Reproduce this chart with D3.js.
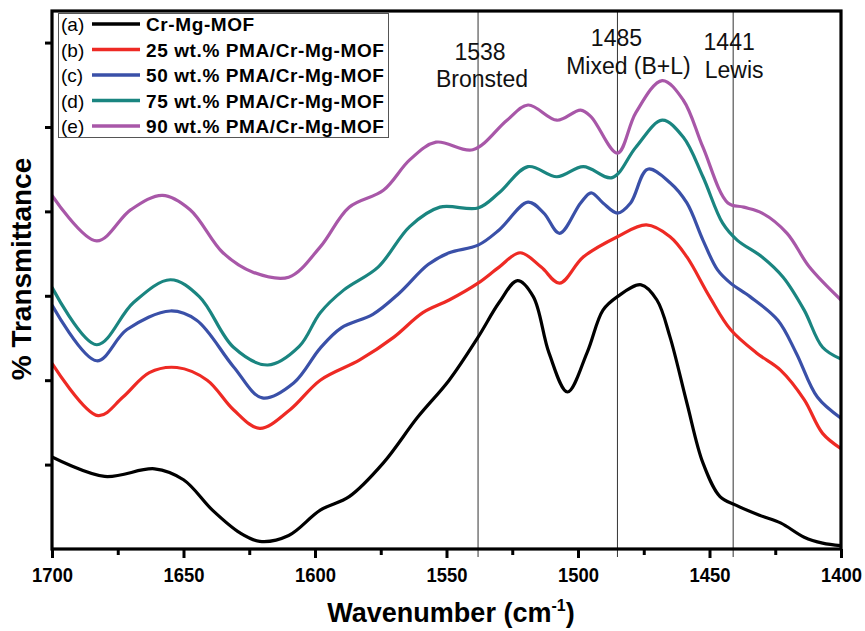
<!DOCTYPE html>
<html>
<head>
<meta charset="utf-8">
<script src="https://cdn.jsdelivr.net/npm/d3@7"></script>
<style>
  html, body { margin: 0; padding: 0; background: #fff; }
  svg { display: block; font-family: "Liberation Sans", Arial, sans-serif; }
</style>
</head>
<body>
<svg id="chart" width="865" height="631"></svg>
<script>
// FTIR spectra (pyridine region), transmittance in arbitrary offset units
const seriesTags = ["(a)", "(b)", "(c)", "(d)", "(e)"];
const seriesNames = [
  "Cr-Mg-MOF",
  "25 wt.% PMA/Cr-Mg-MOF",
  "50 wt.% PMA/Cr-Mg-MOF",
  "75 wt.% PMA/Cr-Mg-MOF",
  "90 wt.% PMA/Cr-Mg-MOF"
];
const seriesColors = ["#000000", "#ee2a24", "#3a50a8", "#1a8580", "#a857a8"];

const mofWn = [1700, 1680, 1661, 1650, 1639, 1628.5, 1621, 1610, 1598, 1587, 1574, 1561, 1549, 1538, 1530, 1523, 1517, 1511, 1504, 1496.5, 1490.5, 1485, 1476, 1470, 1465, 1458.6, 1452.5, 1446, 1440, 1431, 1423, 1414, 1407, 1400];
const mofT  = [1.09, 0.86, 0.95, 0.82, 0.46, 0.19, 0.09, 0.16, 0.46, 0.62, 1.02, 1.56, 2.00, 2.51, 2.92, 3.18, 2.99, 2.32, 1.86, 2.33, 2.83, 2.99, 3.13, 2.95, 2.51, 1.73, 1.02, 0.62, 0.52, 0.40, 0.31, 0.14, 0.07, 0.04];

const pma25Wn = [1700, 1682.5, 1673, 1663, 1652.5, 1641, 1631, 1621, 1609.5, 1598, 1583, 1570, 1559, 1549, 1538, 1530, 1522, 1514, 1507, 1498, 1485, 1474, 1465, 1458.6, 1450, 1442, 1432, 1423, 1414, 1407, 1400];
const pma25T  = [2.20, 1.58, 1.80, 2.09, 2.15, 2.00, 1.65, 1.43, 1.65, 2.00, 2.24, 2.51, 2.80, 2.95, 3.15, 3.34, 3.51, 3.34, 3.15, 3.46, 3.70, 3.84, 3.70, 3.46, 2.99, 2.60, 2.32, 2.12, 1.77, 1.37, 1.19];

const pma50Wn = [1700, 1683, 1671.5, 1655, 1645, 1631, 1620, 1608, 1598, 1590, 1578, 1568, 1557, 1549, 1538, 1530, 1519, 1513, 1507, 1499, 1495, 1490.5, 1485, 1480, 1473.5, 1465, 1458.6, 1452.5, 1447, 1442, 1434.6, 1424, 1417, 1409, 1400];
const pma50T  = [2.89, 2.23, 2.60, 2.82, 2.71, 2.16, 1.79, 1.97, 2.38, 2.62, 2.78, 3.03, 3.37, 3.51, 3.60, 3.78, 4.11, 3.98, 3.74, 4.10, 4.22, 4.10, 3.98, 4.10, 4.50, 4.34, 4.10, 3.66, 3.31, 3.15, 2.99, 2.71, 2.32, 1.80, 1.55];

const pma75Wn = [1700, 1683, 1669, 1655, 1644, 1631, 1618, 1606, 1598, 1589, 1576, 1564, 1552.5, 1538, 1530, 1519, 1508, 1498, 1487, 1478, 1468, 1460, 1452.5, 1445, 1439.5, 1430, 1422, 1414, 1407, 1400];
const pma75T  = [3.10, 2.42, 2.92, 3.19, 2.99, 2.39, 2.18, 2.40, 2.80, 3.07, 3.34, 3.82, 4.05, 4.04, 4.22, 4.53, 4.41, 4.53, 4.40, 4.76, 5.08, 4.88, 4.41, 3.86, 3.66, 3.46, 3.22, 2.83, 2.39, 2.25];

const pma90Wn = [1700, 1683, 1670, 1658, 1647.5, 1635, 1623.6, 1610, 1598, 1587, 1574, 1564, 1554, 1540, 1527, 1519, 1508, 1499, 1495, 1485, 1478, 1468, 1460, 1452.5, 1443, 1437, 1430, 1420.5, 1412, 1400];
const pma90T  = [4.19, 3.65, 4.02, 4.19, 4.02, 3.51, 3.28, 3.22, 3.58, 4.05, 4.25, 4.61, 4.82, 4.73, 5.08, 5.26, 5.08, 5.20, 5.12, 4.69, 5.17, 5.55, 5.32, 4.76, 4.10, 4.05, 3.98, 3.74, 3.34, 2.95];

const seriesWn = [mofWn, pma25Wn, pma50Wn, pma75Wn, pma90Wn];
const seriesT  = [mofT, pma25T, pma50T, pma75T, pma90T];

// Acid-site band markers
const bandWn = [1538, 1485, 1441];
const bandNumbers = ["1538", "1485", "1441"];
const bandTypes = ["Bronsted", "Mixed (B+L)", "Lewis"];

const xTicks = [1700, 1650, 1600, 1550, 1500, 1450, 1400];
const xMinorTicks = [1675, 1625, 1575, 1525, 1475, 1425];
const yTicks = [1, 2, 3, 4, 5, 6];

const svg = d3.select("#chart");
const plotLeft = 52, plotRight = 841, plotTop = 11, plotBottom = 549;

const x = d3.scaleLinear().domain([1700, 1400]).range([plotLeft, plotRight]);
const y = d3.scaleLinear().domain([0, 6.374]).range([plotBottom, plotTop]);

// band marker lines
svg.append("g")
  .selectAll("line")
  .data(bandWn)
  .join("line")
  .attr("x1", d => x(d)).attr("x2", d => x(d))
  .attr("y1", plotTop).attr("y2", plotBottom + 8)
  .attr("stroke", "#333").attr("stroke-width", 1);

// band labels
const bandOffsets = [[2, 4], [-1, 11], [-4, 1]];
const bandNumY = [60, 46, 50];
const bandTypeY = [87, 74, 78];
const labels = svg.append("g").attr("font-size", 23).attr("fill", "#111").attr("text-anchor", "middle");
bandWn.forEach((w, i) => {
  labels.append("text").attr("x", x(w) + bandOffsets[i][0]).attr("y", bandNumY[i]).text(bandNumbers[i]);
  labels.append("text").attr("x", x(w) + bandOffsets[i][1]).attr("y", bandTypeY[i]).text(bandTypes[i]);
});

// spectra
const line = d3.line()
  .x(d => x(d[0]))
  .y(d => y(d[1]))
  .curve(d3.curveCatmullRom.alpha(0.5));

svg.append("clipPath").attr("id", "plotClip")
  .append("rect").attr("x", plotLeft).attr("y", plotTop)
  .attr("width", plotRight - plotLeft).attr("height", plotBottom - plotTop);

svg.append("g").attr("clip-path", "url(#plotClip)")
  .selectAll("path")
  .data(seriesWn.map((wn, i) => wn.map((w, j) => [w, seriesT[i][j]])))
  .join("path")
  .attr("d", line)
  .attr("fill", "none")
  .attr("stroke", (d, i) => seriesColors[i])
  .attr("stroke-width", 3.2)
  .attr("stroke-linejoin", "round");

// x axis: major ticks with labels
const xAxis = svg.append("g").attr("transform", `translate(0,${plotBottom})`)
  .call(d3.axisBottom(x).tickValues(xTicks).tickSize(9).tickSizeOuter(0).tickFormat(d3.format("d")));
xAxis.select(".domain").remove();
xAxis.selectAll(".tick line").attr("stroke", "#000").attr("stroke-width", 3);
xAxis.selectAll(".tick text")
  .attr("y", 33).attr("dy", null)
  .attr("font-size", 20).attr("font-weight", "bold")
  .attr("font-family", "Liberation Sans, Arial, sans-serif")
  .attr("fill", "#000")
  .attr("textLength", 41).attr("lengthAdjust", "spacingAndGlyphs");

// x axis: minor ticks
const xMinor = svg.append("g").attr("transform", `translate(0,${plotBottom})`)
  .call(d3.axisBottom(x).tickValues(xMinorTicks).tickSize(6).tickSizeOuter(0).tickFormat(""));
xMinor.select(".domain").remove();
xMinor.selectAll(".tick line").attr("stroke", "#000").attr("stroke-width", 3);

// y axis ticks (no labels)
const yAxis = svg.append("g").attr("transform", `translate(${plotLeft},0)`)
  .call(d3.axisLeft(y).tickValues(yTicks).tickSize(7).tickSizeOuter(0).tickFormat(""));
yAxis.select(".domain").remove();
yAxis.selectAll(".tick line").attr("stroke", "#000").attr("stroke-width", 3);

// frame
svg.append("rect")
  .attr("x", plotLeft).attr("y", plotTop)
  .attr("width", plotRight - plotLeft).attr("height", plotBottom - plotTop)
  .attr("fill", "none").attr("stroke", "#000").attr("stroke-width", 3.2);

// axis titles
svg.append("text")
  .attr("x", 451).attr("y", 622)
  .attr("text-anchor", "middle")
  .attr("font-size", 27).attr("font-weight", "bold").attr("fill", "#000")
  .call(t => {
    t.append("tspan").text("Wavenumber (cm");
    t.append("tspan").attr("font-size", 16).attr("dy", -11).text("-1");
    t.append("tspan").attr("dy", 11).text(")");
  });

svg.append("text")
  .attr("transform", "translate(31,269) rotate(-90)")
  .attr("text-anchor", "middle")
  .attr("font-size", 28).attr("font-weight", "bold").attr("fill", "#000")
  .text("% Transmittance");

// legend
const legend = svg.append("g");
legend.append("rect")
  .attr("x", 58.5).attr("y", 13.5).attr("width", 330).attr("height", 124)
  .attr("fill", "#fff").attr("stroke", "#555").attr("stroke-width", 1);
const rowY = [24, 49.5, 75, 100.5, 126];
seriesNames.forEach((name, i) => {
  const g = legend.append("g").attr("transform", `translate(0,${rowY[i]})`);
  g.append("text").attr("x", 61).attr("y", 7)
    .attr("font-size", 19).attr("fill", "#000").text(seriesTags[i]);
  g.append("line").attr("x1", 92).attr("x2", 140).attr("y1", 0).attr("y2", 0)
    .attr("stroke", seriesColors[i]).attr("stroke-width", 3.5);
  g.append("text").attr("x", 146).attr("y", 7)
    .attr("font-size", 19).attr("font-weight", "bold").attr("letter-spacing", 0.6)
    .attr("fill", "#000").text(name);
});
</script>
</body>
</html>
